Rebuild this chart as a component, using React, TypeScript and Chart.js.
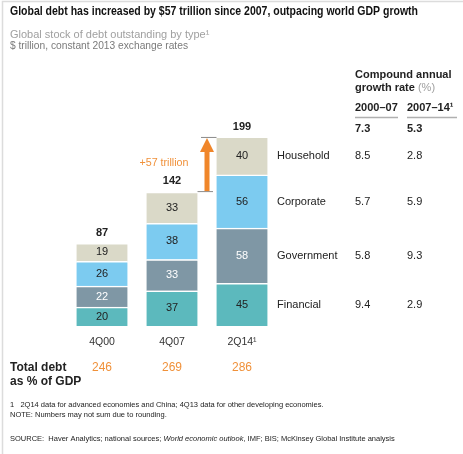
import React, { useEffect, useRef } from "react";
import { Chart, registerables } from "chart.js";

Chart.register(...registerables);

const categories = ["4Q00", "4Q07", "2Q14\u00b9"];
const seriesNames = ["Financial", "Government", "Corporate", "Household"];
const financial = [20, 37, 45];
const government = [22, 33, 58];
const corporate = [26, 38, 56];
const household = [19, 33, 40];
const totals = [87, 142, 199];
const gdpPct = [246, 269, 286];
const cagrHeaders = ["2000\u201307", "2007\u201314\u00b9"];
const cagrTotal = ["7.3", "5.3"];
// order: Financial, Government, Corporate, Household
const cagr2000_07 = ["9.4", "5.8", "5.7", "8.5"];
const cagr2007_14 = ["2.9", "9.3", "5.9", "2.8"];

const COLORS = ["#5cb9bd", "#7f97a5", "#7ccbf0", "#dad9c8"];
const TEXT_COLORS = ["#222", "#ffffff", "#222", "#222"];
const ORANGE = "#f0913a";
const FONT = "'Liberation Sans', Arial, sans-serif";

type Run = { t: string; font: string; color: string };

function drawRuns(ctx: CanvasRenderingContext2D, runs: Run[], x: number, y: number, maxW?: number) {
  let total = 0;
  const widths = runs.map((r) => {
    ctx.font = r.font;
    const w = ctx.measureText(r.t).width;
    total += w;
    return w;
  });
  const s = maxW && total > maxW ? maxW / total : 1;
  ctx.save();
  ctx.translate(x, y);
  ctx.scale(s, 1);
  let cx = 0;
  runs.forEach((r, i) => {
    ctx.font = r.font;
    ctx.fillStyle = r.color;
    ctx.textAlign = "left";
    ctx.textBaseline = "middle";
    ctx.fillText(r.t, cx, 0);
    cx += widths[i];
  });
  ctx.restore();
}

function txt(
  ctx: CanvasRenderingContext2D,
  t: string,
  x: number,
  y: number,
  font: string,
  color: string,
  align: CanvasTextAlign = "left",
  maxW?: number
) {
  ctx.save();
  ctx.font = font;
  ctx.fillStyle = color;
  ctx.textAlign = align;
  ctx.textBaseline = "middle";
  if (maxW) ctx.fillText(t, x, y, maxW);
  else ctx.fillText(t, x, y);
  ctx.restore();
}

const overlay = {
  id: "overlay",
  afterDraw(chart: any) {
    const ctx: CanvasRenderingContext2D = chart.ctx;
    const ys = chart.scales.y;
    const xs = chart.scales.x;

    // frame
    ctx.save();
    ctx.strokeStyle = "#dcdcdc";
    ctx.lineWidth = 1.5;
    ctx.beginPath();
    ctx.moveTo(2.5, 454);
    ctx.lineTo(2.5, 1.5);
    ctx.lineTo(463, 1.5);
    ctx.stroke();
    ctx.restore();

    // title
    txt(ctx, "Global debt has increased by $57 trillion since 2007, outpacing world GDP growth", 10, 12, `bold 12px ${FONT}`, "#111", "left", 408);
    txt(ctx, "Global stock of debt outstanding by type\u00b9", 10, 35, `11px ${FONT}`, "#a0a0a0", "left", 215);
    txt(ctx, "$ trillion, constant 2013 exchange rates", 10, 46, `10.5px ${FONT}`, "#7a7a7a", "left", 178);

    // segment labels
    for (let d = 0; d < 4; d++) {
      const meta = chart.getDatasetMeta(d);
      const vals = chart.data.datasets[d].data;
      meta.data.forEach((bar: any, i: number) => {
        const cy = (bar.y + bar.base) / 2;
        txt(ctx, String(vals[i]), bar.x, cy, `11px ${FONT}`, TEXT_COLORS[d], "center");
      });
    }

    // totals above bars
    totals.forEach((v, i) => {
      const x = xs.getPixelForValue(i);
      txt(ctx, String(v), x, ys.getPixelForValue(v) - 10, `bold 11px ${FONT}`, "#222", "center");
    });

    // category labels
    categories.forEach((c, i) => {
      txt(ctx, c, xs.getPixelForValue(i), 342, `10.5px ${FONT}`, "#333", "center");
    });

    // legend labels + table values, aligned on third bar segments
    for (let d = 0; d < 4; d++) {
      const bar: any = chart.getDatasetMeta(d).data[2];
      const cy = (bar.y + bar.base) / 2;
      txt(ctx, seriesNames[d], 277, cy, `11px ${FONT}`, "#222", "left");
      txt(ctx, cagr2000_07[d], 355, cy, `11px ${FONT}`, "#222", "left");
      txt(ctx, cagr2007_14[d], 407, cy, `11px ${FONT}`, "#222", "left");
    }

    // table header
    txt(ctx, "Compound annual", 355, 75, `bold 11px ${FONT}`, "#222", "left");
    drawRuns(ctx, [
      { t: "growth rate ", font: `bold 11px ${FONT}`, color: "#222" },
      { t: "(%)", font: `11px ${FONT}`, color: "#a0a0a0" },
    ], 355, 88);
    txt(ctx, cagrHeaders[0], 355, 108, `bold 11px ${FONT}`, "#222", "left");
    txt(ctx, cagrHeaders[1], 407, 108, `bold 11px ${FONT}`, "#222", "left");
    ctx.save();
    ctx.strokeStyle = "#b0b0b0";
    ctx.lineWidth = 1.5;
    ctx.beginPath();
    ctx.moveTo(355, 117.5);
    ctx.lineTo(398, 117.5);
    ctx.moveTo(407, 117.5);
    ctx.lineTo(457, 117.5);
    ctx.stroke();
    ctx.restore();
    txt(ctx, cagrTotal[0], 355, 129, `bold 11px ${FONT}`, "#222", "left");
    txt(ctx, cagrTotal[1], 407, 129, `bold 11px ${FONT}`, "#222", "left");

    // growth arrow
    const b2: any = chart.getDatasetMeta(3).data[1];
    const b3: any = chart.getDatasetMeta(3).data[2];
    const yLow = ys.getPixelForValue(totals[1]);
    const yHigh = ys.getPixelForValue(totals[2]);
    const ax = 207;
    ctx.save();
    ctx.strokeStyle = "#8a8a8a";
    ctx.lineWidth = 1;
    ctx.beginPath();
    ctx.moveTo(b2.x + b2.width / 2, yLow + 0.5);
    ctx.lineTo(213, yLow + 0.5);
    ctx.moveTo(201, yHigh + 0.5);
    ctx.lineTo(b3.x - b3.width / 2, yHigh + 0.5);
    ctx.stroke();
    ctx.fillStyle = "#f0862a";
    ctx.fillRect(ax - 2.5, yHigh + 13, 5, yLow - yHigh - 13);
    ctx.beginPath();
    ctx.moveTo(ax, yHigh + 1);
    ctx.lineTo(ax + 7, yHigh + 15);
    ctx.lineTo(ax - 7, yHigh + 15);
    ctx.closePath();
    ctx.fill();
    ctx.restore();
    txt(ctx, "+57 trillion", 164, 163, `11px ${FONT}`, ORANGE, "center", 49);

    // total debt as % of GDP
    txt(ctx, "Total debt", 10, 368, `bold 12px ${FONT}`, "#222", "left");
    txt(ctx, "as % of GDP", 10, 382, `bold 12px ${FONT}`, "#222", "left");
    gdpPct.forEach((v, i) => {
      txt(ctx, String(v), xs.getPixelForValue(i), 368, `12px ${FONT}`, ORANGE, "center");
    });

    // footnotes
    txt(ctx, "1   2Q14 data for advanced economies and China; 4Q13 data for other developing economies.", 10, 405, `7.5px ${FONT}`, "#222", "left", 342);
    txt(ctx, "NOTE: Numbers may not sum due to rounding.", 10, 415, `7.5px ${FONT}`, "#222", "left", 172);
    drawRuns(ctx, [
      { t: "SOURCE:  Haver Analytics; national sources; ", font: `7.5px ${FONT}`, color: "#222" },
      { t: "World economic outlook", font: `italic 7.5px ${FONT}`, color: "#222" },
      { t: ", IMF; BIS; McKinsey Global Institute analysis", font: `7.5px ${FONT}`, color: "#222" },
    ], 10, 439, 420);
  },
};

export default function App() {
  const ref = useRef<HTMLCanvasElement | null>(null);
  useEffect(() => {
    if (!ref.current) return;
    const series = [financial, government, corporate, household];
    const chart = new Chart(ref.current, {
      type: "bar",
      data: {
        labels: categories,
        datasets: series.map((s, i) => ({
          label: seriesNames[i],
          data: s,
          backgroundColor: COLORS[i],
          borderColor: "#ffffff",
          borderWidth: { top: 1.5, bottom: 0, left: 0, right: 0 },
          borderSkipped: false,
          barThickness: 51,
        })),
      },
      options: {
        animation: false,
        responsive: true,
        maintainAspectRatio: false,
        layout: { padding: { left: 67, right: 186, top: 136, bottom: 128 } },
        plugins: { legend: { display: false }, tooltip: { enabled: false } },
        scales: {
          x: { stacked: true, display: false, grid: { display: false } },
          y: { stacked: true, display: false, min: 0, max: 200, grid: { display: false } },
        },
      },
      plugins: [overlay],
    });
    return () => chart.destroy();
  }, []);
  return (
    <div style={{ position: "fixed", left: 0, top: 0, width: 463, height: 454, background: "#fff" }}>
      <canvas ref={ref} />
    </div>
  );
}
